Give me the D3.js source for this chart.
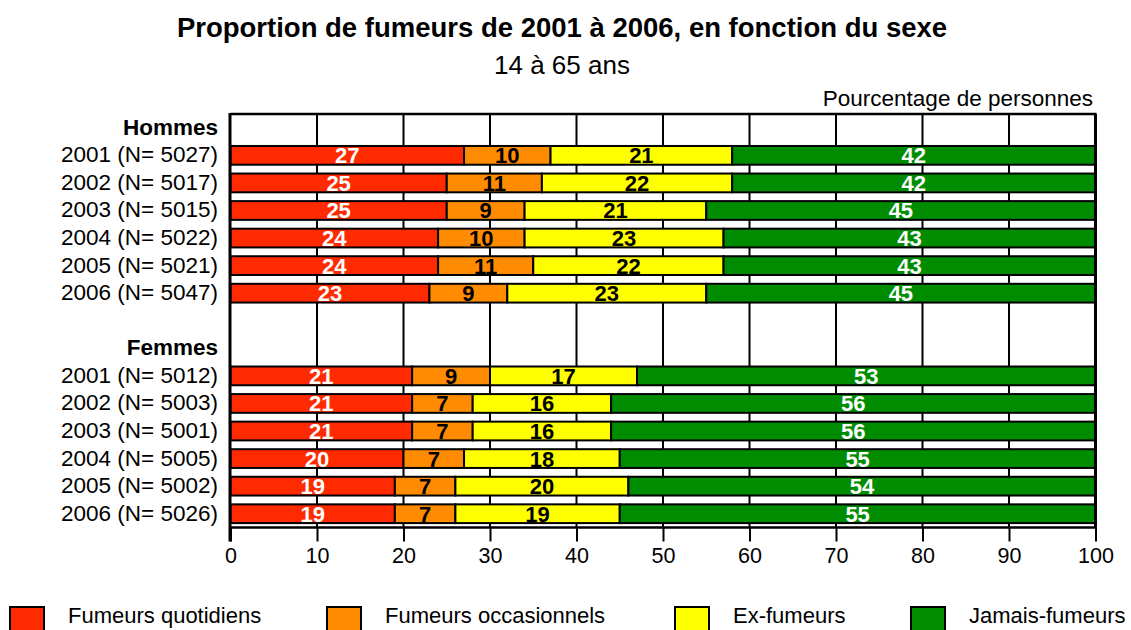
<!DOCTYPE html>
<html>
<head>
<meta charset="utf-8">
<script src="https://cdn.jsdelivr.net/npm/d3@7"></script>
<style>
  body { margin: 0; background: #fff; }
  text { font-family: "Liberation Sans", Arial, Helvetica, sans-serif; }
</style>
</head>
<body>
<div id="chart"></div>
<script>
const WIDTH = 1131;
const HEIGHT = 630;

// data
const years = ["2001", "2002", "2003", "2004", "2005", "2006"];
const nHommes = [5027, 5017, 5015, 5022, 5021, 5047];
const nFemmes = [5012, 5003, 5001, 5005, 5002, 5026];
const categories = ["Fumeurs quotidiens", "Fumeurs occasionnels", "Ex-fumeurs", "Jamais-fumeurs"];
const colors = ["#ff2a00", "#ff8c00", "#ffff00", "#008c00"];
const labelColors = ["#fff", "#000", "#000", "#fff"];

const quotidiensH = [27, 25, 25, 24, 24, 23];
const occasionnelsH = [10, 11, 9, 10, 11, 9];
const exH = [21, 22, 21, 23, 22, 23];
const jamaisH = [42, 42, 45, 43, 43, 45];

const quotidiensF = [21, 21, 21, 20, 19, 19];
const occasionnelsF = [9, 7, 7, 7, 7, 7];
const exF = [17, 16, 16, 18, 20, 19];
const jamaisF = [53, 56, 56, 55, 54, 55];

const xTicks = [0, 10, 20, 30, 40, 50, 60, 70, 80, 90, 100];

// rows: group header, 6 years, blank, group header, 6 years
let rows = [];
rows.push({ key: "h-head", label: "Hommes", header: true });
years.forEach((yr, i) => {
    rows.push({ key: "h-" + yr, label: `${yr} (N= ${nHommes[i]})`,
        values: [quotidiensH[i], occasionnelsH[i], exH[i], jamaisH[i]] });
});
rows.push({ key: "blank", label: "", header: true });
rows.push({ key: "f-head", label: "Femmes", header: true });
years.forEach((yr, i) => {
    rows.push({ key: "f-" + yr, label: `${yr} (N= ${nFemmes[i]})`,
        values: [quotidiensF[i], occasionnelsF[i], exF[i], jamaisF[i]] });
});

const barRows = rows.filter(r => !r.header);

let svg = d3.select("#chart")
    .append("svg")
    .attr("width", WIDTH)
    .attr("height", HEIGHT);

const plotLeft = 230.5, plotRight = 1095.5, plotTop = 114, plotBottom = 527.5;

let x = d3.scaleLinear().domain([0, 100]).range([plotLeft, plotRight]);
let y = d3.scaleBand()
    .domain(rows.map(r => r.key))
    .range([plotTop, plotBottom])
    .paddingInner(0.32)
    .paddingOuter(0.16);

// titles
svg.append("text")
    .attr("x", 562)
    .attr("y", 37)
    .attr("text-anchor", "middle")
    .style("font-weight", "bold")
    .style("font-size", "27.5px")
    .text("Proportion de fumeurs de 2001 à 2006, en fonction du sexe");

svg.append("text")
    .attr("x", 562)
    .attr("y", 74)
    .attr("text-anchor", "middle")
    .style("font-size", "26px")
    .text("14 à 65 ans");

svg.append("text")
    .attr("x", 1093)
    .attr("y", 106)
    .attr("text-anchor", "end")
    .style("font-size", "22.5px")
    .text("Pourcentage de personnes");

// grid lines
svg.append("g")
    .selectAll("line")
    .data(xTicks.slice(1, -1))
    .enter()
    .append("line")
    .attr("x1", d => x(d))
    .attr("x2", d => x(d))
    .attr("y1", plotTop)
    .attr("y2", plotBottom)
    .attr("stroke", "#000")
    .attr("stroke-width", 2);

// stacked bars
let stackData = barRows.map(r => {
    let o = { key: r.key };
    categories.forEach((c, i) => o[c] = r.values[i]);
    return o;
});
let series = d3.stack().keys(categories)(stackData);

let groups = svg.append("g")
    .selectAll("g")
    .data(series)
    .enter()
    .append("g")
    .attr("fill", (d, i) => colors[i]);

groups.selectAll("rect")
    .data(d => d)
    .enter()
    .append("rect")
    .attr("x", d => x(d[0]))
    .attr("y", d => y(d.data.key))
    .attr("width", d => x(d[1]) - x(d[0]))
    .attr("height", y.bandwidth())
    .attr("stroke", "#000")
    .attr("stroke-width", 2);

// value labels
series.forEach((s, i) => {
    svg.append("g")
        .selectAll("text")
        .data(s)
        .enter()
        .append("text")
        .attr("x", d => (x(d[0]) + x(d[1])) / 2)
        .attr("y", d => y(d.data.key) + y.bandwidth() / 2 + 8)
        .attr("text-anchor", "middle")
        .style("font-weight", "bold")
        .style("font-size", "22px")
        .attr("fill", labelColors[i])
        .text(d => d[1] - d[0]);
});

// frame
svg.append("line").attr("x1", plotLeft - 0.5).attr("x2", plotLeft - 0.5).attr("y1", plotTop - 1).attr("y2", plotBottom + 14)
    .attr("stroke", "#000").attr("stroke-width", 3);
svg.append("line").attr("x1", plotLeft).attr("x2", plotRight + 1).attr("y1", plotTop).attr("y2", plotTop)
    .attr("stroke", "#000").attr("stroke-width", 2.5);
svg.append("line").attr("x1", plotRight).attr("x2", plotRight).attr("y1", plotTop).attr("y2", plotBottom)
    .attr("stroke", "#000").attr("stroke-width", 3);
svg.append("line").attr("x1", plotLeft).attr("x2", plotRight + 1).attr("y1", plotBottom).attr("y2", plotBottom)
    .attr("stroke", "#000").attr("stroke-width", 2.5);

// x axis
let xAxis = svg.append("g")
    .attr("transform", `translate(0, ${plotBottom})`)
    .call(d3.axisBottom(x).tickValues(xTicks).tickSize(14).tickPadding(6));
xAxis.select(".domain").remove();
xAxis.selectAll(".tick line").attr("stroke", "#000").attr("stroke-width", 2);
xAxis.selectAll(".tick text")
    .attr("fill", "#000")
    .style("font-family", "'Liberation Sans', Arial, sans-serif")
    .style("font-size", "21.5px");

// row labels
svg.append("g")
    .selectAll("text")
    .data(rows)
    .enter()
    .append("text")
    .attr("x", 218)
    .attr("y", d => y(d.key) + y.bandwidth() / 2 + 7)
    .attr("text-anchor", "end")
    .style("font-size", "22.5px")
    .style("font-weight", d => d.header ? "bold" : "normal")
    .text(d => d.label);

// legend
const legendX = [10, 327, 675, 911];
let legend = svg.append("g")
    .selectAll("g")
    .data(categories)
    .enter()
    .append("g")
    .attr("transform", (d, i) => `translate(${legendX[i]}, 607)`);

legend.append("rect")
    .attr("width", 34)
    .attr("height", 24)
    .attr("fill", (d, i) => colors[i])
    .attr("stroke", "#000")
    .attr("stroke-width", 2);

legend.append("text")
    .attr("x", 58)
    .attr("y", 16)
    .style("font-size", "22px")
    .text(d => d);
</script>
</body>
</html>
